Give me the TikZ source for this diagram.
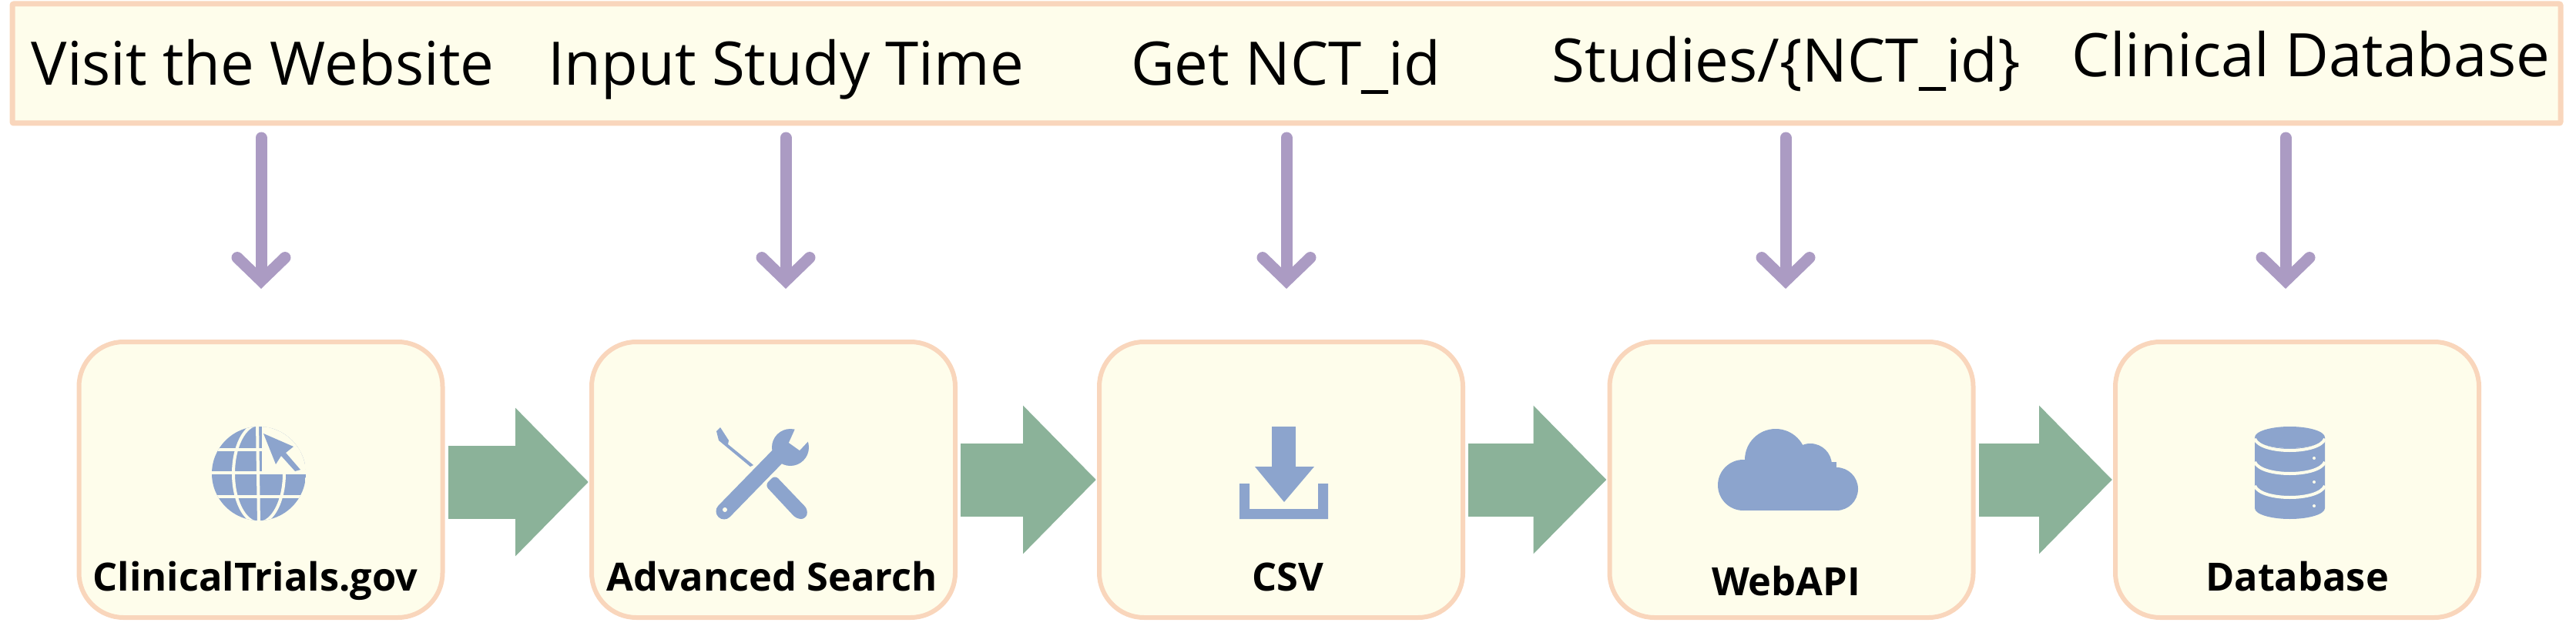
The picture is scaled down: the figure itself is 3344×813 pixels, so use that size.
\documentclass[tikz,border=0pt]{standalone}
\usepackage{fontspec}
\setmainfont{Open Sans}
\usepackage{xcolor}
\usetikzlibrary{positioning}
\usetikzlibrary{arrows.meta}
\definecolor{paleFill}{HTML}{FEFDEB}
\definecolor{peachEdge}{HTML}{F9D6BC}
\definecolor{flowGreen}{HTML}{8BB299}
\definecolor{iconBlue}{HTML}{8CA4CD}
\definecolor{stepPurple}{HTML}{AB9BC3}
\tikzset{%
  sourceBox/.style={rectangle, rounded corners=58pt, draw=peachEdge, fill=paleFill, line width=6pt, minimum width=472pt, minimum height=358pt},
  bannerBox/.style={rectangle, draw=peachEdge, fill=paleFill, line width=7pt, rounded corners=2pt, minimum width=3308pt, minimum height=155pt},
  stepLabel/.style={anchor=base, inner sep=0pt, font=\fontsize{78}{90}\selectfont},
  boxLabel/.style={anchor=base, inner sep=0pt, font=\fontsize{50.5}{60}\selectfont\bfseries},
  flowArrow/.style={draw=flowGreen, line width=95pt, -{Triangle[length=95pt,width=187pt]}, shorten <=4pt, shorten >=1pt},
  stepArrow/.style={draw=stepPurple, line width=15pt, line cap=round, -{Straight Barb[length=30pt,width=62pt,line cap=round]}},
  iconFill/.style={fill=iconBlue, draw=none},
}
\begin{document}
\begin{tikzpicture}[x=1pt,y=-1pt]
    \useasboundingbox (0,0) rectangle (3344,813);
    %Nodes
    \node[bannerBox] (banner) at (1670,82.5) {};
    \node[sourceBox] (clinicalTrials) at (338.5,623) {};
    \node[sourceBox] (advancedSearch) [right=187.5pt of clinicalTrials] {};
    \node[sourceBox] (csv) [right=181pt of advancedSearch] {};
    \node[sourceBox] (webApi) [right=184.5pt of csv] {};
    \node[sourceBox] (database) [right=178.5pt of webApi] {};

    %Banner texts
    \node[stepLabel] (visitText) at (341,111) {Visit the Website};
    \node[stepLabel] (inputText) at (1020,111) {Input Study Time};
    \node[stepLabel] (nctText) at (1669,111) {Get NCT\_id};
    \node[stepLabel] (studiesText) at (2319,107) {Studies/\{NCT\_id\}};
    \node[stepLabel] (dbText) at (3000,100) {Clinical Database};

    %Box texts
    \node[boxLabel] (clinicalLabel) at ([xshift=-7pt,yshift=38pt]clinicalTrials.south) {ClinicalTrials.gov};
    \node[boxLabel] (searchLabel) at ([xshift=-2pt,yshift=38pt]advancedSearch.south) {Advanced Search};
    \node[boxLabel] (csvLabel) at ([xshift=9pt,yshift=38pt]csv.south) {CSV};
    \node[boxLabel] (webLabel) at ([xshift=-7pt,yshift=32pt]webApi.south) {WebAPI};
    \node[boxLabel] (dbLabel) at ([yshift=38pt]database.south) {Database};

    %Lines
    \draw[flowArrow] ([yshift=-3pt]clinicalTrials.east) -- ([yshift=-3pt]advancedSearch.west);
    \draw[flowArrow] (advancedSearch) -- (csv);
    \draw[flowArrow] (csv) -- (webApi);
    \draw[flowArrow] (webApi) -- (database);
    \foreach \name/\x in {visit/339,input/1020,nct/1670,studies/2318,db/2967}{
      \coordinate (\name Top) at (\x,179);
      \coordinate (\name End) at (\x,375);
      \draw[stepArrow] (\name Top) -- (\name End);
    }

    %Globe
    \begin{scope}
      \clip (336,615) ellipse (61 and 61);
      \fill[iconBlue] (275,554) rectangle (397,676);
      \draw[paleFill, line width=4pt] (270,584) -- (400,584) (270,614) -- (400,614) (270,645) -- (400,645);
      \draw[paleFill, line width=4pt] (334,550) -- (336,680);
      \draw[paleFill, line width=4pt] (336,615) ellipse (33 and 64);
      \fill[paleFill] (340,550) rectangle (400,612);
    \end{scope}
    \fill[iconFill] (342,563) -- (381,580) -- (371,588) -- (390,610) -- (383,612) -- (365,592) -- (358,603) -- cycle;

    %Wrench
    \fill[iconFill] (930,560) -- (935,555) -- (946,572) -- (945,577) -- (978,604) -- (974,606) -- (939,577) -- (933,572) -- cycle;
    \fill[iconFill, rounded corners=6pt] (1006,617) -- (1049,662) -- (1046,674) -- (1034,674) -- (993,630) -- cycle;
    \draw[paleFill, line width=27pt] (942,662) -- (1016,586);
    \draw[iconBlue, line width=21pt, line cap=round] (940,664) -- (1016,586);
    \fill[iconBlue] (1026,581) circle (24);
    \fill[paleFill] (1033,555) -- (1052,555) -- (1052,570) -- (1038,585) -- (1024,575) -- cycle;
    \fill[paleFill] (941,662) circle (3);

    %Download
    \fill[iconFill] (1651,554) rectangle (1682,606);
    \fill[iconFill] (1629,606) -- (1706,606) -- (1667,652) -- cycle;
    \fill[iconFill] (1609,628) -- (1622,628) -- (1622,661) -- (1711,661) -- (1711,628) -- (1724,628) -- (1724,674) -- (1609,674) -- cycle;

    %Cloud
    \foreach \cx/\cy/\r in {2305/597/40,2350/604/28,2263/630/33,2384/635/28}{
      \fill[iconBlue] (\cx,\cy) circle (\r);
    }
    \fill[iconBlue] (2263,600) rectangle (2384,663);

    %Cylinders
    \fill[iconBlue] (2927,568) arc (180:360:45.5 and -14) -- (3018,660) arc (0:-180:45.5 and -14) -- cycle;
    \fill[iconBlue] (2972.5,568) ellipse (45.5 and 14);
    \foreach \y in {570,600,631}{
      \draw[paleFill, line width=4pt] (2927,\y) .. controls (2935,\y+20) and (3010,\y+20) .. (3018,\y);
    }
    \foreach \y in {595,626,657}{
      \fill[paleFill] (3004,\y) circle (2);
    }
\end{tikzpicture}
\end{document}
